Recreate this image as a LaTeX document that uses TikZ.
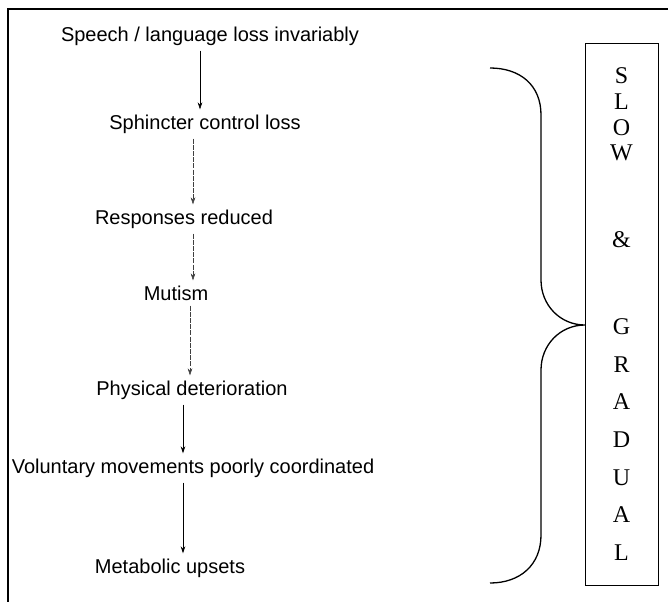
\documentclass[tikz,border=0pt]{standalone}
\usepackage{fontspec}
\setmainfont{Liberation Serif}
\newfontfamily\labfont{Liberation Sans}
\usetikzlibrary{arrows.meta}
\begin{document}
\begin{tikzpicture}[x=1pt,y=-1pt,
  lab/.style={font=\labfont\fontsize{20}{22}\selectfont, inner sep=0pt, anchor=center},
  flow/.style={line width=0.6pt, -{Stealth[length=7pt,width=4.5pt]}, shorten >=5pt, shorten <=5pt},
  faint/.style={flow, draw=black!75, line width=0.45pt, dash pattern=on 5pt off 1.2pt},
  bold/.style={flow, line width=1pt},
  letter/.style={font=\fontsize{24}{26}\selectfont, inner sep=0pt, anchor=center}]
\useasboundingbox (0,0) rectangle (668,602);
% outer frame (open at right and bottom)
\draw[line width=1.3pt] (668,9) -- (8,9) -- (8,602);
% steps
\node[lab] (s1) at (210,36) {Speech / language loss invariably};
\node[lab] (s2) at (205,124) {Sphincter control loss};
\node[lab] (s3) at (184,219) {Responses reduced};
\node[lab] (s4) at (176,293) {Mutism};
\node[lab] (s5) at (192,390) {Physical deterioration};
\node[lab] (s6) at (193,468) {Voluntary movements poorly coordinated};
\node[lab] (s7) at (170,568) {Metabolic upsets};
\coordinate (a1) at (200,0);
\coordinate (a2) at (193,0);
\coordinate (a3) at (190,0);
\coordinate (a4) at (183,0);
\draw[flow]  (s1.south -| a1) -- (s2.north -| a1);
\draw[faint] (s2.south -| a2) -- (s3.north -| a2);
\draw[faint] (s3.south -| a2) -- (s4.north -| a2);
\draw[faint] (s4.south -| a3) -- (s5.north -| a3);
\draw[bold]  (s5.south -| a4) -- (s6.north -| a4);
\draw[bold]  (s6.south -| a4) -- (s7.north -| a4);
% brace
\coordinate (bt) at (490,68);
\coordinate (tip) at (585,325);
\coordinate (bb) at (490,583);
\draw[line width=1.3pt] (bt) .. controls (520,68) and (541,85) .. (541,115)
  -- (541,280) .. controls (541,305) and (560,325) .. (tip)
  .. controls (560,325) and (541,345) .. (541,370)
  -- (541,535) .. controls (541,565) and (520,583) .. (bb);
% box
\node[draw, line width=1.3pt, minimum width=73pt, minimum height=542pt, inner sep=0pt, anchor=north west] (box) at (585,43) {};
\foreach \ch/\yy [count=\i] in {S/76,L/102,O/128,W/153,\&/240,G/327,R/365,A/402,D/440,U/478,A/515,L/553} {
  \node[letter] (c\i) at (621.5,\yy) {\ch};
}
\end{tikzpicture}
\end{document}
